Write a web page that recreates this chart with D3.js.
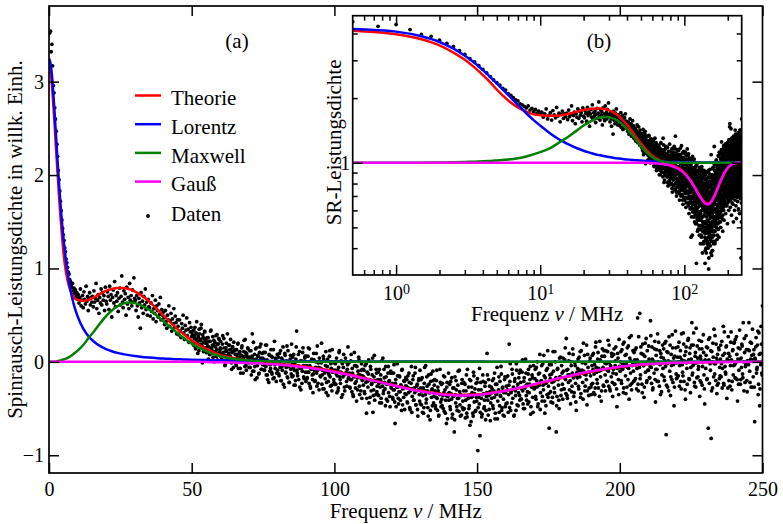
<!DOCTYPE html>
<html>
<head>
<meta charset="utf-8">
<script src="https://cdn.jsdelivr.net/npm/d3@7"></script>
<style>
  body { margin: 0; background: #fff; }
  svg, svg text { font-family: "Liberation Serif", Tinos, "Times New Roman", "DejaVu Serif", serif; fill: #000; }
</style>
</head>
<body>
<div id="chart"></div>
<script>
// Spinrausch-Leistungsdichte: main plot (a) linear, inset (b) log-log

// model curves (MHz -> arb. units)
const kurveF = [0, 0.5, 1, 1.5, 2, 2.5, 3, 3.5, 4, 4.5,
  5, 6, 7, 8, 9, 10, 12, 14, 16, 18,
  20, 22, 24, 26, 28, 30, 32, 35, 38, 41,
  44, 47, 50, 55, 60, 65, 70, 80, 90, 100,
  110, 120, 130, 140, 145, 150, 160, 170, 180, 190,
  200, 210, 220, 230, 240, 250];

const theorie = [3.16, 3.12, 2.97, 2.76, 2.52, 2.26, 2.02, 1.78, 1.56, 1.37,
  1.19, 0.95, 0.81, 0.73, 0.68, 0.665, 0.655, 0.665, 0.695, 0.73,
  0.76, 0.78, 0.79, 0.79, 0.78, 0.755, 0.72, 0.65, 0.56, 0.47,
  0.38, 0.30, 0.23, 0.14, 0.075, 0.04, 0.015, -0.02, -0.053, -0.10,
  -0.17, -0.245, -0.31, -0.35, -0.355, -0.35, -0.31, -0.245, -0.17, -0.105,
  -0.055, -0.025, -0.01, -0.003, 0, 0];

const lorentz = [3.25, 3.20, 3.08, 2.88, 2.65, 2.40, 2.15, 1.92, 1.70, 1.51,
  1.34, 1.07, 0.86, 0.70, 0.58, 0.49, 0.355, 0.268, 0.21, 0.168,
  0.137, 0.114, 0.096, 0.083, 0.072, 0.0625, 0.055, 0.046, 0.039, 0.034,
  0.029, 0.026, 0.023, 0.019, 0.016, 0.0135, 0.012, 0.009, 0.007, 0.0057,
  0.0047, 0.004, 0.0034, 0.0029, 0.0027, 0.0025, 0.0022, 0.002, 0.0018, 0.0016,
  0.0014, 0.0013, 0.0012, 0.0011, 0.001, 0.0009];

const maxwell = [0, 0, 0, 0.001, 0.003, 0.005, 0.008, 0.011, 0.015, 0.02,
  0.025, 0.035, 0.05, 0.07, 0.095, 0.12, 0.18, 0.26, 0.335, 0.415,
  0.49, 0.55, 0.595, 0.625, 0.635, 0.63, 0.61, 0.56, 0.49, 0.41,
  0.335, 0.26, 0.195, 0.115, 0.06, 0.03, 0.014, 0.003, 0.0005, 0,
  0, 0, 0, 0, 0, 0, 0, 0, 0, 0,
  0, 0, 0, 0, 0, 0];

const gauss = [0, 0, 0, 0, 0, 0, 0, 0, 0, 0,
  0, 0, 0, 0, 0, 0, 0, 0, 0, 0,
  0, 0, 0, 0, 0, 0, 0, 0, 0, 0,
  0, 0, 0, -0.001, -0.005, -0.008, -0.013, -0.029, -0.06, -0.108,
  -0.174, -0.248, -0.315, -0.355, -0.36, -0.355, -0.31, -0.24, -0.165, -0.1,
  -0.052, -0.024, -0.009, -0.003, -0.001, 0];

// measured points, every 0.25 MHz starting at 0.25 MHz
const datenSchritt = 0.25;
const daten000 = [
  3.52, 3.54, 3.32, 3.40, 3.17, 2.96, 2.88, 2.72, 2.60, 2.47, 2.33, 2.20, 2.05, 1.95, 1.83, 1.72, 1.62, 1.52, 1.43, 1.36,
  1.30, 1.22, 1.18, 1.10, 1.06, 1.01, 0.96, 0.94, 0.88, 0.86, 0.83, 0.80, 0.84, 0.76, 0.79, 0.73, 0.77, 0.70, 0.74, 0.69,
  0.72, 0.63, 0.69, 0.78, 0.60, 0.66, 0.71, 0.58, 0.75, 0.67, 0.62, 0.81, 0.65, 0.70, 0.55, 0.68, 0.74, 0.61, 0.69, 0.64,
  0.70, 0.59, 0.76, 0.64, 0.68, 0.84, 0.57, 0.66, 0.72, 0.52, 0.69, 0.63, 0.78, 0.61, 0.74, 0.66, 0.71, 0.55, 0.80, 0.65,
  0.62, 0.75, 0.70, 0.56, 0.81, 0.66, 0.72, 0.48, 0.69, 0.77, 0.63, 0.86, 0.59, 0.71, 0.65, 0.74, 0.54, 0.68, 0.79, 0.61,
  0.70, 0.92, 0.64, 0.58, 0.76, 0.67, 0.73, 0.50, 0.80, 0.62, 0.69, 0.57, 0.84, 0.66, 0.71, 0.60, 0.77, 0.64, 0.90, 0.68,
  0.66, 0.55, 0.71, 0.60, 0.48, 0.68, 0.63, 0.36, 0.74, 0.58, 0.65, 0.52, 0.70, 0.61, 0.78, 0.56, 0.64, 0.50, 0.67, 0.59,
  0.58, 0.49, 0.63, 0.54, 0.71, 0.46, 0.57, 0.52, 0.66, 0.43, 0.60, 0.55, 0.48, 0.62, 0.51, 0.69, 0.45, 0.56, 0.50, 0.53,
  0.47, 0.40, 0.55, 0.43, 0.36, 0.50, 0.45, 0.60, 0.38, 0.44, 0.52, 0.33, 0.46, 0.41, 0.57, 0.37, 0.49, 0.42, 0.30, 0.45,
  0.38, 0.29, 0.45, 0.33, 0.26, 0.41, 0.36, 0.50, 0.31, 0.24, 0.39, 0.34, 0.47, 0.28, 0.35, 0.21, 0.42, 0.32, 0.37, 0.27
];
const daten050 = [
  0.29, 0.20, 0.34, 0.25, 0.16, 0.31, 0.43, 0.22, 0.27, 0.12, 0.30, 0.24, 0.36, 0.19, -0.01, 0.26, 0.21, 0.33, 0.15, 0.23,
  0.20, 0.12, 0.26, 0.16, 0.08, 0.22, 0.34, 0.14, 0.18, 0.05, 0.23, 0.17, 0.11, 0.28, 0.13, 0.02, 0.19, 0.25, 0.10, 0.15,
  0.14, 0.04, 0.19, 0.10, 0.25, 0.07, -0.03, 0.15, 0.12, 0.30, 0.01, 0.09, 0.18, 0.06, 0.13, -0.08, 0.16, 0.11, 0.21, 0.03,
  0.08, -0.02, 0.13, 0.05, 0.20, 0.00, 0.10, -0.07, 0.07, 0.15, 0.03, -0.12, 0.11, 0.06, 0.24, -0.04, 0.09, 0.02, 0.14, 0.04,
  0.05, -0.06, 0.12, -0.01, 0.30, 0.03, -0.10, 0.08, -0.19, 0.02, 0.15, -0.04, 0.06, -0.13, 0.10, 0.01, 0.19, -0.08, 0.04, -0.02,
  0.03, -0.09, 0.10, -0.05, 0.18, -0.14, 0.00, -0.22, 0.07, -0.03, 0.13, -0.11, 0.05, -0.18, -0.01, 0.22, -0.07, 0.02, -0.12, 0.08,
  -0.01, -0.13, 0.09, -0.06, -0.20, 0.04, -0.09, 0.16, -0.03, -0.27, 0.07, -0.11, 0.01, -0.16, 0.12, -0.05, -0.22, 0.03, -0.08, 0.19,
  -0.02, -0.15, 0.08, -0.09, -0.25, 0.03, 0.33, -0.12, -0.04, -0.19, 0.11, -0.07, -0.30, 0.01, -0.10, 0.15, -0.16, -0.05, 0.06, -0.21,
  -0.04, -0.17, 0.06, -0.11, 0.14, -0.26, -0.07, 0.02, -0.14, -0.33, 0.09, -0.09, -0.20, 0.00, -0.12, 0.17, -0.23, -0.06, 0.04, -0.15,
  -0.07, 0.20, -0.14, -0.29, 0.03, -0.10, -0.18, 0.11, -0.22, -0.05, -0.36, -0.12, 0.06, -0.16, -0.02, -0.25, 0.13, -0.09, -0.19, -0.01
];
const daten100 = [
  -0.09, -0.24, 0.04, -0.15, -0.31, -0.06, 0.12, -0.19, -0.11, -0.38, -0.02, -0.16, 0.08, -0.27, -0.13, 0.00, -0.21, -0.08, 0.16, -0.17,
  -0.12, -0.28, 0.01, -0.19, -0.07, -0.35, -0.15, 0.10, -0.23, -0.04, -0.42, -0.17, -0.10, 0.05, -0.26, -0.14, -0.31, -0.02, -0.20, -0.08,
  -0.16, -0.32, -0.04, -0.22, -0.55, -0.11, -0.27, 0.02, -0.19, -0.38, -0.08, -0.24, -0.14, -0.54, -0.30, 0.07, -0.21, -0.35, -0.12, -0.26,
  -0.19, -0.36, -0.08, -0.27, -0.14, -0.44, -0.22, 0.04, -0.31, -0.17, -0.29, -0.05, -0.40, -0.24, -0.12, -0.33, -0.20, -0.48, -0.10, -0.26,
  -0.23, -0.40, -0.12, -0.30, -0.66, -0.19, -0.35, -0.02, -0.27, -0.45, -0.15, -0.32, -0.25, -0.52, -0.08, -0.29, -0.38, -0.21, -0.34, -0.17,
  -0.26, -0.43, -0.15, -0.33, -0.22, -0.51, -0.29, -0.05, -0.37, -0.19, -0.41, -0.28, -0.12, -0.46, -0.31, -0.24, -0.58, -0.20, -0.35, -0.09,
  -0.28, -0.46, -0.17, -0.36, -0.55, -0.23, -0.31, -0.04, -0.40, -0.26, -0.49, -0.14, -0.33, -0.62, -0.21, -0.38, -0.29, -0.10, -0.44, -0.25,
  -0.31, -0.50, -0.20, -0.39, -0.27, -0.58, -0.34, -0.08, -0.43, -0.24, -0.47, -0.36, -0.15, -0.53, -0.30, -0.41, -0.66, -0.22, -0.37, -0.12,
  -0.33, -0.48, -0.21, -0.40, -0.60, -0.28, -0.37, -0.75, -0.16, -0.44, -0.30, -0.52, -0.25, -0.39, -0.09, -0.46, -0.35, -0.57, -0.19, -0.42,
  -0.31, -0.50, -0.24, -0.41, -0.14, -0.59, -0.36, -0.27, -0.47, -0.68, -0.20, -0.38, -0.33, -0.55, -0.11, -0.43, -0.29, -0.52, -0.38, -0.22
];
const daten150 = [
  -0.95, -0.30, -0.45, -0.79, -0.22, -0.39, -0.56, -0.14, -0.34, -0.48, -0.26, -0.62, -0.37, 0.09, -0.41, -0.19, -0.51, -0.32, -0.44, -0.27,
  -0.29, -0.47, -0.18, -0.38, -0.61, -0.24, -0.35, -0.06, -0.42, -0.30, -0.54, -0.21, -0.37, -0.13, -0.49, -0.27, -0.40, -0.58, -0.16, -0.33,
  -0.26, -0.44, -0.15, -0.35, 0.19, -0.21, -0.52, -0.31, -0.08, -0.39, -0.27, -0.57, -0.18, -0.36, -0.02, -0.46, -0.24, -0.33, -0.12, -0.41,
  -0.22, -0.40, -0.11, -0.31, -0.50, -0.17, -0.28, 0.03, -0.36, -0.24, -0.45, -0.08, -0.33, -0.19, -0.56, -0.26, -0.14, -0.38, -0.04, -0.29,
  -0.18, -0.37, -0.06, -0.27, -0.48, -0.13, -0.25, 0.08, -0.33, -0.20, -0.42, -0.02, -0.30, -0.15, -0.55, -0.23, -0.09, -0.35, 0.12, -0.26,
  -0.71, -0.14, -0.32, -0.03, -0.22, -0.44, -0.10, -0.28, 0.11, -0.19, -0.75, -0.37, -0.07, -0.25, -0.50, -0.16, 0.05, -0.30, -0.12, -0.40,
  -0.10, -0.29, 0.02, -0.19, 0.25, -0.36, -0.08, -0.22, 0.09, -0.14, -0.45, -0.04, -0.26, 0.14, -0.17, -0.33, -0.01, -0.23, -0.52, -0.11,
  -0.07, -0.26, 0.05, -0.16, -0.38, 0.12, -0.09, -0.22, 0.20, -0.13, -0.31, -0.02, -0.19, -0.46, 0.08, -0.11, -0.28, 0.01, -0.15, -0.35,
  -0.04, -0.23, 0.09, -0.13, -0.35, 0.16, -0.06, -0.19, 0.03, -0.28, -0.10, 0.22, -0.16, -0.42, 0.06, -0.08, -0.25, 0.12, -0.01, -0.31,
  -0.02, -0.21, 0.11, -0.10, 0.18, -0.29, -0.04, -0.16, 0.06, -0.37, -0.08, 0.14, -0.24, 0.01, -0.13, -0.48, 0.09, -0.19, 0.24, -0.06
];
const daten200 = [
  0.00, -0.20, 0.13, -0.08, -0.33, 0.21, -0.02, -0.15, 0.08, -0.27, -0.06, 0.17, -0.40, 0.04, -0.12, 0.28, -0.23, -0.01, -0.10, 0.10,
  0.02, -0.18, 0.15, -0.07, 0.47, -0.31, -0.01, 0.52, -0.14, 0.09, -0.24, 0.19, -0.04, -0.38, 0.06, -0.11, 0.25, -0.20, 0.00, -0.09,
  0.03, -0.17, 0.44, -0.06, 0.16, -0.30, 0.01, -0.12, 0.22, -0.43, 0.07, -0.08, 0.30, -0.21, -0.02, 0.12, -0.35, 0.05, -0.14, 0.18,
  0.04, -0.16, 0.20, -0.05, -0.78, 0.11, -0.27, 0.01, 0.27, -0.10, -0.36, 0.08, -0.19, 0.15, -0.03, -0.47, 0.06, 0.33, -0.13, -0.01,
  0.05, -0.15, 0.21, -0.04, 0.12, -0.29, 0.02, -0.11, 0.31, -0.21, 0.07, -0.40, 0.16, -0.07, 0.00, 0.25, -0.18, 0.09, -0.33, 0.03,
  0.42, -0.12, 0.18, -0.02, -0.26, 0.10, 0.36, -0.17, 0.04, -0.08, 0.23, -0.37, 0.06, -0.22, 0.14, -0.05, 0.29, -0.14, -0.45, 0.01,
  0.07, -0.19, 0.15, -0.71, 0.02, 0.26, -0.09, -0.82, 0.11, -0.28, 0.05, 0.35, -0.13, -0.02, 0.19, -0.34, 0.08, -0.23, 0.13, -0.06,
  0.03, -0.16, 0.22, -0.07, 0.38, -0.25, 0.09, -0.11, 0.16, -0.39, 0.01, 0.27, -0.20, 0.06, -0.04, 0.32, -0.30, 0.12, -0.14, 0.20,
  -0.03, 0.24, -0.18, 0.08, -0.42, 0.15, -0.09, 0.34, -0.24, 0.04, 0.19, -0.13, 0.42, -0.31, 0.10, -0.05, 0.28, -0.20, 0.01, 0.13,
  0.42, -0.10, 0.21, -0.27, 0.07, 0.35, -0.16, 0.13, -0.64, 0.02, 0.26, -0.08, 0.18, -0.35, 0.31, -0.47, 0.09, 0.38, -0.12, 0.60
];

// second sweep, interleaved: every 0.25 MHz starting at 50.125 MHz
const datenBStart = 50.125;
const datenB050 = [
  0.21, 0.33, 0.18, 0.28, 0.37, 0.14, 0.24, 0.30, 0.09, 0.26, 0.35, 0.19, 0.23, 0.40, 0.17, 0.29, 0.11, 0.25, 0.32, 0.20,
  0.10, 0.26, 0.17, 0.03, 0.22, 0.08, 0.33, 0.15, 0.12, 0.27, 0.18, 0.00, 0.21, 0.16, 0.06, 0.29, 0.19, 0.09, 0.24, 0.13,
  0.22, 0.05, 0.09, 0.28, 0.01, 0.15, -0.04, 0.11, 0.20, 0.04, 0.07, 0.18, 0.02, 0.13, 0.24, -0.01, 0.10, 0.16, -0.06, 0.12,
  0.02, 0.13, -0.04, 0.08, 0.19, -0.07, 0.05, 0.11, -0.12, 0.07, 0.17, 0.00, 0.04, 0.23, -0.05, 0.10, -0.09, 0.06, 0.15, -0.01,
  -0.06, 0.12, 0.02, -0.14, 0.06, -0.10, 0.21, 0.00, -0.05, 0.14, 0.03, -0.17, 0.07, 0.01, -0.12, 0.16, 0.04, -0.08, 0.09, -0.03,
  0.10, -0.09, -0.04, 0.18, -0.14, 0.02, -0.19, -0.02, 0.08, -0.10, -0.07, 0.06, -0.13, 0.00, 0.13, -0.17, -0.03, 0.04, -0.21, -0.01,
  -0.09, 0.05, -0.15, -0.02, 0.12, -0.20, -0.05, 0.02, -0.24, -0.03, 0.09, -0.12, -0.06, 0.17, -0.17, 0.00, -0.22, -0.04, 0.07, -0.13,
  -0.16, 0.05, -0.06, -0.25, -0.02, -0.20, 0.16, -0.09, -0.15, 0.08, -0.05, -0.27, 0.01, -0.07, -0.23, 0.10, -0.04, -0.18, 0.04, -0.11,
  0.06, -0.18, -0.11, 0.15, -0.23, -0.04, -0.28, -0.08, 0.03, -0.19, -0.13, 0.02, -0.21, -0.06, 0.09, -0.26, -0.09, -0.01, -0.30, -0.07,
  -0.16, -0.01, -0.24, -0.09, 0.06, -0.29, -0.12, -0.04, -0.33, -0.10, 0.03, -0.21, -0.14, 0.12, -0.26, -0.07, -0.31, -0.11, 0.00, -0.22
];
const datenB100 = [
  -0.24, -0.02, -0.13, -0.33, -0.09, -0.28, 0.10, -0.16, -0.23, 0.01, -0.12, -0.35, -0.06, -0.14, -0.31, 0.04, -0.11, -0.26, -0.03, -0.18,
  -0.01, -0.27, -0.19, 0.08, -0.32, -0.12, -0.37, -0.16, -0.04, -0.28, -0.21, -0.05, -0.30, -0.14, 0.02, -0.35, -0.17, -0.09, -0.39, -0.15,
  -0.25, -0.09, -0.34, -0.18, -0.02, -0.39, -0.21, -0.13, -0.44, -0.19, -0.05, -0.31, -0.23, 0.04, -0.36, -0.16, -0.41, -0.20, -0.08, -0.32,
  -0.35, -0.11, -0.23, -0.44, -0.19, -0.39, 0.01, -0.26, -0.34, -0.08, -0.22, -0.47, -0.16, -0.24, -0.42, -0.05, -0.21, -0.37, -0.12, -0.28,
  -0.12, -0.38, -0.30, -0.03, -0.43, -0.23, -0.48, -0.27, -0.15, -0.39, -0.32, -0.16, -0.41, -0.25, -0.09, -0.46, -0.28, -0.20, -0.51, -0.26,
  -0.35, -0.19, -0.44, -0.28, -0.12, -0.49, -0.31, -0.23, -0.54, -0.29, -0.15, -0.41, -0.33, -0.06, -0.46, -0.26, -0.51, -0.30, -0.18, -0.42,
  -0.45, -0.19, -0.32, -0.54, -0.28, -0.49, -0.06, -0.35, -0.44, -0.16, -0.31, -0.58, -0.24, -0.33, -0.52, -0.13, -0.30, -0.47, -0.20, -0.37,
  -0.19, -0.47, -0.38, -0.09, -0.52, -0.31, -0.57, -0.35, -0.22, -0.48, -0.40, -0.23, -0.50, -0.33, -0.16, -0.55, -0.36, -0.27, -0.61, -0.34,
  -0.41, -0.24, -0.51, -0.34, -0.17, -0.56, -0.37, -0.28, -0.62, -0.35, -0.20, -0.48, -0.39, -0.10, -0.53, -0.32, -0.58, -0.36, -0.23, -0.49,
  -0.51, -0.22, -0.36, -0.60, -0.31, -0.55, -0.08, -0.39, -0.50, -0.19, -0.35, -0.64, -0.27, -0.37, -0.58, -0.15, -0.34, -0.53, -0.23, -0.42
];
const datenB150 = [
  -0.18, -0.49, -0.38, -0.07, -0.54, -0.30, -0.59, -0.35, -0.21, -0.50, -0.41, -0.22, -0.52, -0.33, -0.14, -0.57, -0.36, -0.26, -0.63, -0.34,
  -0.39, -0.20, -0.50, -0.31, -0.12, -0.55, -0.34, -0.24, -0.61, -0.32, -0.16, -0.47, -0.36, -0.05, -0.52, -0.28, -0.57, -0.33, -0.19, -0.48,
  -0.45, -0.16, -0.30, -0.54, -0.25, -0.49, -0.02, -0.33, -0.44, -0.13, -0.29, -0.58, -0.21, -0.31, -0.52, -0.09, -0.28, -0.47, -0.17, -0.36,
  -0.09, -0.40, -0.29, 0.02, -0.45, -0.21, -0.50, -0.26, -0.12, -0.41, -0.32, -0.13, -0.43, -0.24, -0.05, -0.48, -0.27, -0.17, -0.54, -0.25,
  -0.28, -0.08, -0.40, -0.20, 0.00, -0.45, -0.23, -0.12, -0.51, -0.21, -0.04, -0.37, -0.25, 0.07, -0.42, -0.17, -0.47, -0.22, -0.07, -0.38,
  -0.34, -0.03, -0.18, -0.43, -0.13, -0.38, 0.11, -0.21, -0.33, 0.00, -0.17, -0.47, -0.08, -0.19, -0.41, 0.04, -0.16, -0.36, -0.04, -0.24,
  0.04, -0.29, -0.17, 0.15, -0.34, -0.09, -0.39, -0.14, 0.01, -0.30, -0.20, 0.00, -0.32, -0.12, 0.08, -0.37, -0.15, -0.04, -0.43, -0.13,
  -0.17, 0.03, -0.29, -0.09, 0.11, -0.34, -0.12, -0.01, -0.40, -0.10, 0.07, -0.26, -0.14, 0.18, -0.31, -0.06, -0.36, -0.11, 0.04, -0.27,
  -0.24, 0.07, -0.08, -0.33, -0.03, -0.28, 0.21, -0.11, -0.23, 0.10, -0.07, -0.37, 0.02, -0.09, -0.31, 0.14, -0.06, -0.26, 0.06, -0.14,
  0.12, -0.21, -0.09, 0.23, -0.26, -0.01, -0.31, -0.06, 0.09, -0.22, -0.12, 0.08, -0.24, -0.04, 0.16, -0.29, -0.07, 0.04, -0.35, -0.05
];
const datenB200 = [
  -0.10, 0.11, -0.23, -0.02, 0.19, -0.28, -0.05, 0.07, -0.34, -0.03, 0.15, -0.19, -0.07, 0.26, -0.25, 0.01, -0.30, -0.04, 0.12, -0.21,
  -0.20, 0.13, -0.03, -0.29, 0.02, -0.24, 0.27, -0.06, -0.18, 0.16, -0.02, -0.33, 0.08, -0.04, -0.27, 0.20, -0.01, -0.22, 0.12, -0.09,
  0.17, -0.17, -0.05, 0.28, -0.23, 0.03, -0.28, -0.02, 0.14, -0.19, -0.08, 0.13, -0.21, 0.00, 0.21, -0.26, -0.03, 0.09, -0.32, -0.01,
  -0.07, 0.14, -0.20, 0.01, 0.22, -0.25, -0.02, 0.10, -0.31, 0.00, 0.18, -0.16, -0.04, 0.29, -0.22, 0.04, -0.27, -0.01, 0.15, -0.18,
  -0.17, 0.16, 0.00, -0.26, 0.05, -0.21, 0.30, -0.03, -0.15, 0.19, 0.01, -0.30, 0.11, -0.01, -0.24, 0.23, 0.02, -0.19, 0.15, -0.06,
  0.18, -0.14, -0.04, 0.31, -0.22, 0.06, -0.27, -0.01, 0.17, -0.16, -0.05, 0.14, -0.20, 0.03, 0.22, -0.25, 0.00, 0.10, -0.29, 0.02,
  -0.07, 0.16, -0.18, 0.01, 0.24, -0.23, -0.02, 0.12, -0.31, 0.00, 0.20, -0.16, -0.02, 0.28, -0.20, 0.04, -0.25, 0.01, 0.15, -0.18,
  -0.15, 0.18, -0.02, -0.28, 0.07, -0.23, 0.32, -0.05, -0.13, 0.17, 0.03, -0.28, 0.09, 0.01, -0.26, 0.21, 0.02, -0.21, 0.13, -0.04,
  0.21, -0.17, -0.01, 0.27, -0.19, 0.03, -0.24, 0.02, 0.14, -0.19, -0.06, 0.17, -0.17, 0.00, 0.25, -0.22, -0.03, 0.13, -0.32, 0.01,
  -0.03, 0.12, -0.22, 0.03, 0.20, -0.27, 0.02, 0.08, -0.27, 0.04, 0.16, -0.12, -0.06, 0.33, -0.24, 0.08, -0.29, -0.03, 0.19, -0.14
];

// ticks and labels
const xTicks = [0, 50, 100, 150, 200, 250];
const yTicks = [-1, 0, 1, 2, 3];
const insetXMajor = [1, 10, 100];
const insetXExponent = ['0', '1', '2'];
const insetXMinor = [0.6, 0.7, 0.8, 0.9, 2, 3, 4, 5, 6, 7, 8, 9, 20, 30, 40, 50, 60, 70, 80, 90, 200];
const insetYMajor = [1];
const insetYMinor = [0.4, 0.5, 0.6, 0.7, 0.8, 0.9, 2, 3, 4];

const serien = [
  { name: 'Theorie', values: theorie, color: '#ff0000' },
  { name: 'Lorentz', values: lorentz, color: '#0000ff' },
  { name: 'Maxwell', values: maxwell, color: '#008000' },
  { name: 'Gauß', values: gauss, color: '#ff00ff' }
];

const daten = daten000.concat(daten050, daten100, daten150, daten200)
  .map((v, i) => ({ f: (i + 1) * datenSchritt, v: v }))
  .concat(datenB050.concat(datenB100, datenB150, datenB200)
    .map((v, i) => ({ f: datenBStart + i * datenSchritt, v: v })));

const width = 783;
const height = 524;
const font = '"Liberation Serif", Tinos, "Times New Roman", "DejaVu Serif", serif';
const dotR = 1.9;

const svg = d3.select('#chart')
  .append('svg')
  .attr('width', width)
  .attr('height', height)
  .style('font-family', font);

// ---------- main plot (a) ----------
const m = { left: 49, right: 762.5, top: 6, bottom: 473 };
const x = d3.scaleLinear().domain([0, 250]).range([m.left, m.right]);
const y = d3.scaleLinear().domain([-1.19, 3.81]).range([m.bottom, m.top]);

svg.append('clipPath').attr('id', 'clipMain')
  .append('rect')
  .attr('x', m.left).attr('y', m.top)
  .attr('width', m.right - m.left).attr('height', m.bottom - m.top);

function styleAxis(g) {
  g.attr('font-family', null).attr('font-size', 20);
  g.select('.domain').remove();
  g.selectAll('.tick line').attr('stroke', '#000').attr('stroke-width', 1.5);
  g.selectAll('.tick text').attr('fill', '#000').style('font-family', font);
}

const plotA = svg.append('g').attr('clip-path', 'url(#clipMain)');

plotA.append('g')
  .selectAll('circle')
  .data(daten)
  .enter().append('circle')
  .attr('cx', d => x(d.f))
  .attr('cy', d => y(d.v))
  .attr('r', dotR)
  .attr('fill', '#000');

const lineA = d3.line()
  .x((d, i) => x(kurveF[i]))
  .y(d => y(d))
  .curve(d3.curveMonotoneX);

plotA.selectAll('path.kurve')
  .data(serien)
  .enter().append('path')
  .attr('class', 'kurve')
  .attr('d', d => lineA(d.values))
  .attr('fill', 'none')
  .attr('stroke', d => d.color)
  .attr('stroke-width', 2.5);

svg.append('g')
  .attr('transform', `translate(0,${m.bottom})`)
  .call(d3.axisBottom(x).tickValues(xTicks).tickSize(-10).tickPadding(8.5).tickFormat(d3.format('d')))
  .call(styleAxis);
svg.append('g')
  .attr('transform', `translate(0,${m.top})`)
  .call(d3.axisTop(x).tickValues(xTicks).tickSize(-10).tickFormat(''))
  .call(styleAxis);
svg.append('g')
  .attr('transform', `translate(${m.left},0)`)
  .call(d3.axisLeft(y).tickValues(yTicks).tickSize(-10).tickPadding(5).tickFormat(d3.format('d')))
  .call(styleAxis);
svg.append('g')
  .attr('transform', `translate(${m.right},0)`)
  .call(d3.axisRight(y).tickValues(yTicks).tickSize(-10).tickFormat(''))
  .call(styleAxis);

svg.append('rect')
  .attr('x', m.left).attr('y', m.top)
  .attr('width', m.right - m.left).attr('height', m.bottom - m.top)
  .attr('fill', 'none').attr('stroke', '#000').attr('stroke-width', 1.7);

const xLabel = svg.append('text')
  .attr('x', (m.left + m.right) / 2).attr('y', 517.5)
  .attr('text-anchor', 'middle').attr('font-size', 21);
xLabel.append('tspan').text('Frequenz ');
xLabel.append('tspan').attr('font-style', 'italic').text('ν');
xLabel.append('tspan').text(' / MHz');

svg.append('text')
  .attr('transform', `translate(22,${(m.top + m.bottom) / 2}) rotate(-90)`)
  .attr('text-anchor', 'middle').attr('font-size', 21)
  .text('Spinrausch-Leistungsdichte in willk. Einh.');

svg.append('text')
  .attr('x', 237).attr('y', 48)
  .attr('text-anchor', 'middle').attr('font-size', 21)
  .text('(a)');

// legend
const legend = svg.append('g').attr('font-size', 21);
serien.forEach((s, i) => {
  const ly = 95.5 + i * 28.7;
  legend.append('line')
    .attr('x1', 135).attr('x2', 161)
    .attr('y1', ly).attr('y2', ly)
    .attr('stroke', s.color).attr('stroke-width', 2.5);
  legend.append('text').attr('x', 171).attr('y', ly + 9.8).text(s.name);
});
legend.append('circle').attr('cx', 148).attr('cy', 216).attr('r', dotR).attr('fill', '#000');
legend.append('text').attr('x', 171).attr('y', 220.7).text('Daten');

// ---------- inset (b) ----------
const b = { left: 352.7, right: 741.7, top: 15.7, bottom: 275 };
const xl = d3.scaleLog().domain([0.5, 250]).range([b.left, b.right]);
const yl = d3.scaleLog().domain([0.3, 4.84]).range([b.bottom, b.top]);

svg.append('rect')
  .attr('x', b.left).attr('y', b.top)
  .attr('width', b.right - b.left).attr('height', b.bottom - b.top)
  .attr('fill', '#fff');

svg.append('clipPath').attr('id', 'clipInset')
  .append('rect')
  .attr('x', b.left).attr('y', b.top)
  .attr('width', b.right - b.left).attr('height', b.bottom - b.top);

const plotB = svg.append('g').attr('clip-path', 'url(#clipInset)');

plotB.append('g')
  .selectAll('circle')
  .data(daten.filter(d => d.v > -0.9))
  .enter().append('circle')
  .attr('cx', d => xl(d.f))
  .attr('cy', d => yl(1 + d.v))
  .attr('r', dotR)
  .attr('fill', '#000');

const lineB = d3.line()
  .defined((d, i) => kurveF[i] > 0)
  .x((d, i) => xl(Math.max(kurveF[i], 0.5)))
  .y(d => yl(1 + d))
  .curve(d3.curveMonotoneX);

plotB.selectAll('path.kurve')
  .data(serien)
  .enter().append('path')
  .attr('class', 'kurve')
  .attr('d', d => lineB(d.values))
  .attr('fill', 'none')
  .attr('stroke', d => d.color)
  .attr('stroke-width', 2.5);

// inset axes: minor ticks first, then majors
svg.append('g').attr('transform', `translate(0,${b.bottom})`)
  .call(d3.axisBottom(xl).tickValues(insetXMinor).tickSize(-5).tickFormat(''))
  .call(styleAxis);
const xlMajor = svg.append('g').attr('transform', `translate(0,${b.bottom})`)
  .call(d3.axisBottom(xl).tickValues(insetXMajor).tickSize(-10).tickPadding(10.8).tickFormat(''))
  .call(styleAxis);
xlMajor.selectAll('.tick text').each(function(d, i) {
  const t = d3.select(this);
  t.append('tspan').text('10');
  t.append('tspan').attr('dy', '-0.42em').attr('font-size', 14).text(insetXExponent[i]);
});
svg.append('g').attr('transform', `translate(0,${b.top})`)
  .call(d3.axisTop(xl).tickValues(insetXMinor).tickSize(-5).tickFormat(''))
  .call(styleAxis);
svg.append('g').attr('transform', `translate(0,${b.top})`)
  .call(d3.axisTop(xl).tickValues(insetXMajor).tickSize(-10).tickFormat(''))
  .call(styleAxis);

svg.append('g').attr('transform', `translate(${b.left},0)`)
  .call(d3.axisLeft(yl).tickValues(insetYMinor).tickSize(-5).tickFormat(''))
  .call(styleAxis);
svg.append('g').attr('transform', `translate(${b.left},0)`)
  .call(d3.axisLeft(yl).tickValues(insetYMajor).tickSize(-10).tickPadding(2.5).tickFormat(d3.format('d')))
  .call(styleAxis);
svg.append('g').attr('transform', `translate(${b.right},0)`)
  .call(d3.axisRight(yl).tickValues(insetYMinor).tickSize(-5).tickFormat(''))
  .call(styleAxis);
svg.append('g').attr('transform', `translate(${b.right},0)`)
  .call(d3.axisRight(yl).tickValues(insetYMajor).tickSize(-10).tickFormat(''))
  .call(styleAxis);

svg.append('rect')
  .attr('x', b.left).attr('y', b.top)
  .attr('width', b.right - b.left).attr('height', b.bottom - b.top)
  .attr('fill', 'none').attr('stroke', '#000').attr('stroke-width', 1.7);

const xlLabel = svg.append('text')
  .attr('x', (b.left + b.right) / 2).attr('y', 321)
  .attr('text-anchor', 'middle').attr('font-size', 21);
xlLabel.append('tspan').text('Frequenz ');
xlLabel.append('tspan').attr('font-style', 'italic').text('ν');
xlLabel.append('tspan').text(' / MHz');

svg.append('text')
  .attr('transform', `translate(341,${(b.top + b.bottom) / 2 - 3}) rotate(-90)`)
  .attr('text-anchor', 'middle').attr('font-size', 21)
  .text('SR-Leistungsdichte');

svg.append('text')
  .attr('x', 599).attr('y', 48)
  .attr('text-anchor', 'middle').attr('font-size', 21)
  .text('(b)');
</script>
</body>
</html>
